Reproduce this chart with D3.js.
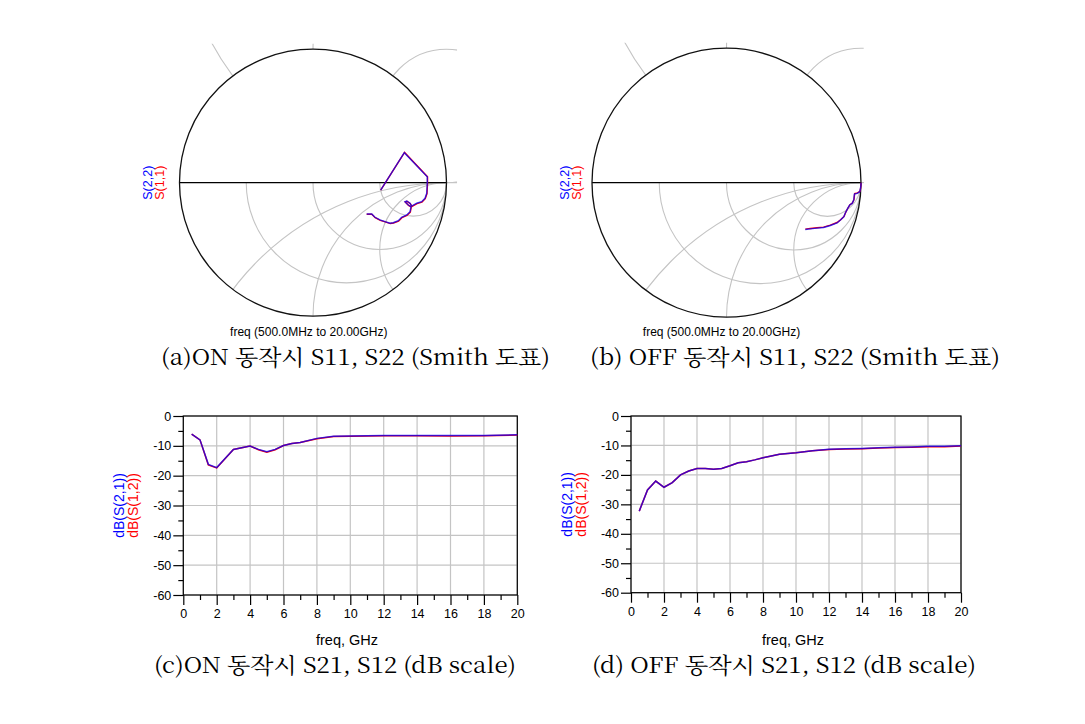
<!DOCTYPE html>
<html><head><meta charset="utf-8">
<script src="https://cdn.jsdelivr.net/npm/d3@7"></script>
<style>body{margin:0;background:#fff}svg{display:block}</style>
</head><body>
<svg id="c" width="1085" height="724"></svg>
<script>
// ---------- data ----------
const captions = ["(a)ON 동작시 S11, S22 (Smith 도표)", "(b) OFF 동작시 S11, S22 (Smith 도표)",
                  "(c)ON 동작시 S21, S12 (dB scale)", "(d) OFF 동작시 S21, S12 (dB scale)"];
const smithFreqLabel = "freq (500.0MHz to 20.00GHz)";
const smithResistance = [1/3, 1, 3];
const smithReactance = [0.5, 1, 2];

// Smith traces: [Re(Γ), Im(Γ)]
const onS22 = [[0.402,-0.234],[0.440,-0.234],[0.464,-0.259],[0.502,-0.279],[0.539,-0.292],[0.577,-0.304],
  [0.601,-0.300],[0.639,-0.285],[0.664,-0.259],[0.702,-0.242],[0.727,-0.217],[0.734,-0.180],[0.714,-0.167],
  [0.689,-0.142],[0.702,-0.137],[0.727,-0.154],[0.739,-0.175],[0.777,-0.154],[0.814,-0.142],[0.839,-0.117],
  [0.852,-0.079],[0.856,-0.004],[0.856,0.045],[0.684,0.225],[0.507,-0.055]];
const onS11 = [[0.402,-0.236],[0.440,-0.236],[0.466,-0.262],[0.504,-0.282],[0.541,-0.294],[0.579,-0.306],
  [0.603,-0.302],[0.641,-0.288],[0.666,-0.262],[0.704,-0.245],[0.729,-0.220],[0.736,-0.183],[0.716,-0.170],
  [0.691,-0.145],[0.704,-0.140],[0.729,-0.157],[0.741,-0.178],[0.779,-0.157],[0.816,-0.145],[0.841,-0.120],
  [0.854,-0.081],[0.858,-0.004],[0.858,0.045],[0.686,0.227],[0.507,-0.055]];
const offS22 = [[0.586,-0.348],[0.623,-0.343],[0.673,-0.338],[0.722,-0.333],[0.772,-0.318],[0.822,-0.299],
  [0.847,-0.278],[0.872,-0.254],[0.884,-0.224],[0.901,-0.191],[0.916,-0.166],[0.934,-0.154],[0.946,-0.129],
  [0.951,-0.084],[0.972,-0.079],[0.991,-0.067],[0.996,-0.042],[1.0,-0.017],[1.0,0.0]];
const offS11 = [[0.586,-0.345],[0.623,-0.340],[0.673,-0.335],[0.722,-0.330],[0.772,-0.315],[0.822,-0.296],
  [0.849,-0.275],[0.874,-0.251],[0.886,-0.221],[0.903,-0.188],[0.918,-0.163],[0.936,-0.151],[0.948,-0.126],
  [0.953,-0.081],[0.974,-0.076],[0.993,-0.064],[0.997,-0.040],[1.0,-0.015],[1.0,0.0]];

// dB traces
const freqOn  = [0.5,1,1.5,2,3,4,4.5,5,5.5,6,6.5,7,8,9,10,12,14,16,18,20];
const onS21   = [-6.1,-8.0,-16.2,-17.3,-11.2,-10.1,-11.2,-12.0,-11.2,-9.9,-9.2,-8.9,-7.5,-6.8,-6.7,-6.5,-6.5,-6.5,-6.5,-6.3];
const onS12   = [-6.1,-8.0,-16.4,-17.4,-11.2,-10.1,-11.3,-12.1,-11.3,-9.9,-9.2,-8.9,-7.6,-6.9,-6.8,-6.6,-6.6,-6.7,-6.6,-6.4];
const freqOff = [0.5,1,1.5,2,2.5,3,3.5,4,4.5,5,5.5,6,6.5,7,7.5,8,9,10,11,12,13,14,15,16,17,18,19,20];
const offS21  = [-32.3,-25.1,-22.1,-24.2,-22.6,-20.0,-18.7,-17.8,-17.8,-18.1,-17.8,-16.9,-15.9,-15.5,-14.9,-14.2,
                 -13.0,-12.5,-11.8,-11.3,-11.1,-11.0,-10.8,-10.6,-10.5,-10.3,-10.3,-10.1];
const offS12  = [-32.3,-25.1,-22.1,-24.2,-22.6,-20.0,-18.7,-17.8,-17.8,-18.1,-17.8,-16.9,-15.9,-15.5,-14.9,-14.2,
                 -13.0,-12.5,-11.8,-11.4,-11.2,-11.1,-10.9,-10.7,-10.6,-10.4,-10.4,-10.2];
const xTicks = [0,2,4,6,8,10,12,14,16,18,20];
const xMinor = [1,3,5,7,9,11,13,15,17,19];
const yTicks = [0,-10,-20,-30,-40,-50,-60];
const yMinor = [-5,-15,-25,-35,-45,-55];

// ---------- drawing ----------
const svg = d3.select('#c');
const defs = svg.append('defs');
const SANS = "'Liberation Sans', Arial, sans-serif";
const GRID = '#c4c4c4';

function smith(id, cx, cy, R, clipRightN, s11, s22, labX2, labX1, freqX) {
  const g = svg.append('g');
  const sx = d3.scaleLinear().domain([-1, 1]).range([cx - R, cx + R]);
  const sy = d3.scaleLinear().domain([-1, 1]).range([cy + R, cy - R]);
  const k = R;
  defs.append('clipPath').attr('id', id + 'low').append('path')
    .attr('d', `M${cx - R},${cy} A${R},${R} 0 0 0 ${cx + R},${cy} Z`);
  defs.append('clipPath').attr('id', id + 'up').append('path')
    .attr('clip-rule', 'evenodd')
    .attr('d', `M${sx(-1.3)},${sy(1.04)} H${sx(clipRightN)} V${cy} H${sx(-1.3)} Z ` +
               `M${cx - R},${cy} A${R},${R} 0 0 1 ${cx + R},${cy} Z`);
  const low = g.append('g').attr('clip-path', `url(#${id}low)`);
  smithResistance.forEach(r => {
    low.append('circle').attr('cx', sx(r / (1 + r))).attr('cy', sy(0)).attr('r', k / (1 + r))
      .attr('fill', 'none').attr('stroke', GRID).attr('stroke-width', 1.1);
  });
  smithReactance.forEach(x => {
    low.append('circle').attr('cx', sx(1)).attr('cy', sy(-1 / x)).attr('r', k / x)
      .attr('fill', 'none').attr('stroke', GRID).attr('stroke-width', 1.1);
  });
  const up = g.append('g').attr('clip-path', `url(#${id}up)`);
  smithReactance.forEach(x => {
    up.append('circle').attr('cx', sx(1)).attr('cy', sy(1 / x)).attr('r', k / x)
      .attr('fill', 'none').attr('stroke', GRID).attr('stroke-width', 1.1);
  });
  g.append('line').attr('x1', sx(1)).attr('x2', sx(clipRightN)).attr('y1', sy(0)).attr('y2', sy(0))
    .attr('stroke', GRID).attr('stroke-width', 1.1);
  g.append('line').attr('x1', sx(-1)).attr('x2', sx(1)).attr('y1', sy(0)).attr('y2', sy(0))
    .attr('stroke', '#000').attr('stroke-width', 1.2);
  g.append('circle').attr('cx', cx).attr('cy', cy).attr('r', R)
    .attr('fill', 'none').attr('stroke', '#111').attr('stroke-width', 1.3);
  const line = d3.line().x(d => sx(d[0])).y(d => sy(d[1]));
  g.append('path').attr('d', line(s11)).attr('fill', 'none').attr('stroke', '#ff0000').attr('stroke-width', 1.4);
  g.append('path').attr('d', line(s22)).attr('fill', 'none').attr('stroke', '#0000ff').attr('stroke-width', 1.4)
    .attr('stroke-opacity', 0.75);
  g.append('text').attr('transform', `translate(${labX2},${cy}) rotate(-90)`).attr('text-anchor', 'middle')
    .attr('font-family', SANS).attr('font-size', 12.5).attr('fill', '#0000ff').text('S(2,2)');
  g.append('text').attr('transform', `translate(${labX1},${cy}) rotate(-90)`).attr('text-anchor', 'middle')
    .attr('font-family', SANS).attr('font-size', 12.5).attr('fill', '#ff0000').text('S(1,1)');
  g.append('text').attr('x', freqX).attr('y', 336).attr('text-anchor', 'middle')
    .attr('font-family', SANS).attr('font-size', 12).attr('fill', '#000').text(smithFreqLabel);
}

function dbChart(x0, x1, y0, y1, freq, s21, s12, labBlue, labRed, xlabX) {
  const g = svg.append('g');
  const x = d3.scaleLinear().domain([0, 20]).range([x0, x1]);
  const y = d3.scaleLinear().domain([-60, 0]).range([y1, y0]);
  g.selectAll('.vg').data(xTicks).join('line').attr('x1', d => x(d)).attr('x2', d => x(d))
    .attr('y1', y0).attr('y2', y1).attr('stroke', GRID).attr('stroke-width', 1.2);
  g.selectAll('.hg').data(yTicks).join('line').attr('y1', d => y(d)).attr('y2', d => y(d))
    .attr('x1', x0).attr('x2', x1).attr('stroke', GRID).attr('stroke-width', 1.2);
  g.append('rect').attr('x', x0).attr('y', y0).attr('width', x1 - x0).attr('height', y1 - y0)
    .attr('fill', 'none').attr('stroke', '#000').attr('stroke-width', 1.2);
  const styleAxis = a => {
    a.attr('font-family', SANS).attr('font-size', 12.5);
    a.select('.domain').remove();
    a.selectAll('line').attr('stroke', '#000').attr('stroke-width', 1.2);
    a.selectAll('text').attr('fill', '#000');
  };
  g.append('g').attr('transform', `translate(0,${y1})`)
    .call(d3.axisBottom(x).tickValues(xTicks).tickSize(10).tickPadding(4).tickFormat(d => String(d))).call(styleAxis);
  g.append('g').attr('transform', `translate(0,${y1})`)
    .call(d3.axisBottom(x).tickValues(xMinor).tickSize(5).tickFormat('')).call(styleAxis);
  g.append('g').attr('transform', `translate(${x0},0)`)
    .call(d3.axisLeft(y).tickValues(yTicks).tickSize(10).tickPadding(2).tickFormat(d => String(d))).call(styleAxis);
  g.append('g').attr('transform', `translate(${x0},0)`)
    .call(d3.axisLeft(y).tickValues(yMinor).tickSize(5).tickFormat('')).call(styleAxis);
  const line = d3.line().x((d, i) => x(freq[i])).y(d => y(d));
  g.append('path').attr('d', line(s12)).attr('fill', 'none').attr('stroke', '#ff0000').attr('stroke-width', 1.5);
  g.append('path').attr('d', line(s21)).attr('fill', 'none').attr('stroke', '#0000ff').attr('stroke-width', 1.5)
    .attr('stroke-opacity', 0.75);
  const yc = (y0 + y1) / 2;
  g.append('text').attr('transform', `translate(${labBlue},${yc}) rotate(-90)`).attr('text-anchor', 'middle')
    .attr('font-family', SANS).attr('font-size', 14).attr('fill', '#0000ff').text('dB(S(2,1))');
  g.append('text').attr('transform', `translate(${labRed},${yc}) rotate(-90)`).attr('text-anchor', 'middle')
    .attr('font-family', SANS).attr('font-size', 14).attr('fill', '#ff0000').text('dB(S(1,2))');
  g.append('text').attr('x', xlabX).attr('y', 645).attr('text-anchor', 'middle')
    .attr('font-family', SANS).attr('font-size', 14.5).attr('fill', '#000').text('freq, GHz');
}

smith('sa', 313, 182.7, 133.5, 1.079, onS11, onS22, 152, 164, 308.8);
smith('sb', 726.5, 182.7, 134.5, 1.02, offS11, offS22, 569, 581, 721.5);
dbChart(183.3, 517.3, 416, 595, freqOn, onS21, onS12, 124, 138, 347);
dbChart(631, 961, 416, 592.7, freqOff, offS21, offS12, 572, 586, 793);

const CAP = "'Noto Serif CJK KR', 'Liberation Serif', 'Noto Sans CJK KR', serif";
const capPos = [[161, 365, 389], [590, 365, 410], [154, 673, 362], [592, 673, 384]];
captions.forEach((c, i) => {
  svg.append('text').attr('x', capPos[i][0]).attr('y', capPos[i][1])
    .attr('font-family', CAP).attr('font-size', 22).attr('fill', '#000')
    .attr('textLength', capPos[i][2]).attr('lengthAdjust', 'spacingAndGlyphs').text(c);
});
</script>
</body></html>
